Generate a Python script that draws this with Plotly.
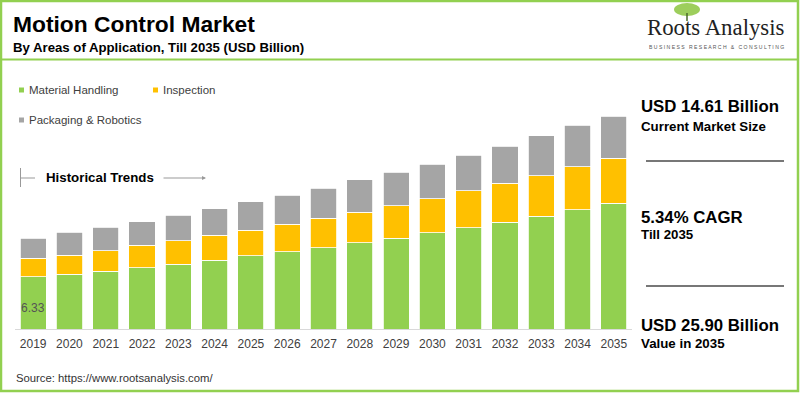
import plotly.graph_objects as go

years = [str(y) for y in range(2019, 2036)]
material_handling = [6.33, 6.65, 7.02, 7.46, 7.87, 8.39, 8.92, 9.37, 9.89, 10.50, 11.03, 11.72, 12.32, 12.98, 13.71, 14.48, 15.30]
inspection = [2.27, 2.35, 2.51, 2.72, 2.87, 3.01, 3.12, 3.37, 3.58, 3.70, 3.97, 4.13, 4.47, 4.75, 4.94, 5.23, 5.45]
packaging_robotics = [2.43, 2.76, 2.84, 2.87, 3.09, 3.20, 3.45, 3.56, 3.68, 3.93, 4.06, 4.22, 4.34, 4.53, 4.83, 5.07, 5.15]

GREEN = "#92D050"
YELLOW = "#FFC000"
GRAY = "#A5A5A5"
FONT = "Arial, Liberation Sans, sans-serif"

W, H = 800, 393
L, R, T, B = 15, 168, 100, 64
PW, PH = W - L - R, H - T - B
YMAX = PH / 8.22


def px(x):
    return (x - L) / PW


def py(y):
    return (H - B - y) / PH


fig = go.Figure()
fig.add_bar(x=years, y=material_handling, name="Material Handling", marker_color=GREEN,
            marker_line=dict(color="white", width=0.8))
fig.add_bar(x=years, y=inspection, name="Inspection", marker_color=YELLOW,
            marker_line=dict(color="white", width=0.8))
fig.add_bar(x=years, y=packaging_robotics, name="Packaging & Robotics", marker_color=GRAY,
            marker_line=dict(color="white", width=0.8))

shapes = []
annotations = []

# value label of first bar (category index 0)
annotations.append(dict(xref="x", yref="y", x=0, y=0, yanchor="bottom", yshift=12,
                        text="%.2f" % material_handling[0], showarrow=False,
                        font=dict(size=12, color="#555555", family=FONT)))

# outer border
shapes.append(dict(type="rect", xref="paper", yref="paper", x0=px(1), x1=px(798), y0=py(1), y1=py(391),
                   line=dict(color=GREEN, width=2.5), fillcolor="rgba(0,0,0,0)", layer="below"))
# title separator
shapes.append(dict(type="line", xref="paper", yref="paper", x0=px(2), x1=px(797), y0=py(59.5), y1=py(59.5),
                   line=dict(color=GREEN, width=2)))

def text(x, y, s, size, bold=False, color="#000000", family=FONT, anchor="left"):
    annotations.append(dict(xref="paper", yref="paper", x=px(x), y=py(y), text=("<b>%s</b>" % s) if bold else s,
                            showarrow=False, xanchor=anchor, yanchor="middle",
                            font=dict(size=size, color=color, family=family)))

text(11, 24, "Motion Control Market", 22.8, bold=True)
text(11, 48, "By Areas of Application, Till 2035 (USD Billion)", 13.2, bold=True)

# logo
shapes.append(dict(type="circle", xref="paper", yref="paper", x0=px(674), x1=px(700), y0=py(3), y1=py(16),
                   fillcolor="#8CC63F", line=dict(width=0), opacity=0.85))
shapes.append(dict(type="line", xref="paper", yref="paper", x0=px(687), x1=px(687), y0=py(13), y1=py(21),
                   line=dict(color="#4a6a2a", width=1.5)))
text(715.5, 27, "Roots Analysis", 22.8, color="#222222", family="Liberation Serif, Times New Roman, serif", anchor="center")
text(716.5, 47, "B U S I N E S S   R E S E A R C H   &   C O N S U L T I N G", 5.1, color="#555555", anchor="center")

# legend
legend_items = [("Material Handling", GREEN, 19, 90), ("Inspection", YELLOW, 153, 90), ("Packaging & Robotics", GRAY, 19, 120)]
for name, col, x, y in legend_items:
    shapes.append(dict(type="rect", xref="paper", yref="paper", x0=px(x), x1=px(x + 5), y0=py(y - 2.5), y1=py(y + 2.5),
                       fillcolor=col, line=dict(width=0)))
    text(x + 8, y, name, 11.5, color="#404040")

# historical trends
shapes.append(dict(type="line", xref="paper", yref="paper", x0=px(20.5), x1=px(20.5), y0=py(168), y1=py(187),
                   line=dict(color="#999999", width=1)))
shapes.append(dict(type="line", xref="paper", yref="paper", x0=px(21), x1=px(35), y0=py(178), y1=py(178),
                   line=dict(color="#999999", width=1)))
text(44, 177, "Historical Trends", 13.3, bold=True)
annotations.append(dict(xref="paper", yref="paper", axref="pixel", ayref="pixel",
                        x=px(206), y=py(178), ax=-44, ay=0, text="", showarrow=True,
                        arrowhead=2, arrowsize=0.8, arrowwidth=1, arrowcolor="#999999"))

# right panel
text(639, 107, "USD 14.61 Billion", 16.8, bold=True)
text(639, 126, "Current Market Size", 13.3, bold=True)
shapes.append(dict(type="line", xref="paper", yref="paper", x0=px(646), x1=px(784), y0=py(161), y1=py(161),
                   line=dict(color="#777777", width=2)))
text(639, 217, "5.34% CAGR", 16.8, bold=True)
text(639, 235, "Till 2035", 13.3, bold=True)
shapes.append(dict(type="line", xref="paper", yref="paper", x0=px(646), x1=px(784), y0=py(286), y1=py(286),
                   line=dict(color="#777777", width=2)))
text(639, 325, "USD 25.90 Billion", 16.8, bold=True)
text(639, 343, "Value in 2035", 13.3, bold=True)

text(14, 378, "Source: https://www.rootsanalysis.com/", 11.3, color="#333333")

fig.update_layout(
    barmode="stack", bargap=0.28, showlegend=False,
    width=W, height=H, margin=dict(l=L, r=R, t=T, b=B, pad=0),
    paper_bgcolor="white", plot_bgcolor="white",
    font=dict(family=FONT, color="#333333"),
    shapes=shapes, annotations=annotations,
)
fig.update_xaxes(type="category", showgrid=False, showline=True, linecolor="#D9D9D9", linewidth=1, ticks="",
                 ticklabelstandoff=4,
                 tickfont=dict(size=12, color="#404040", family=FONT), range=[-0.5, 16.5], fixedrange=True)
fig.update_yaxes(visible=False, range=[0, YMAX], showgrid=False, zeroline=False, fixedrange=True)

fig.write_html("out.html", config={"displayModeBar": False},
               post_script="document.body.style.margin='0';document.body.style.overflow='hidden';")
